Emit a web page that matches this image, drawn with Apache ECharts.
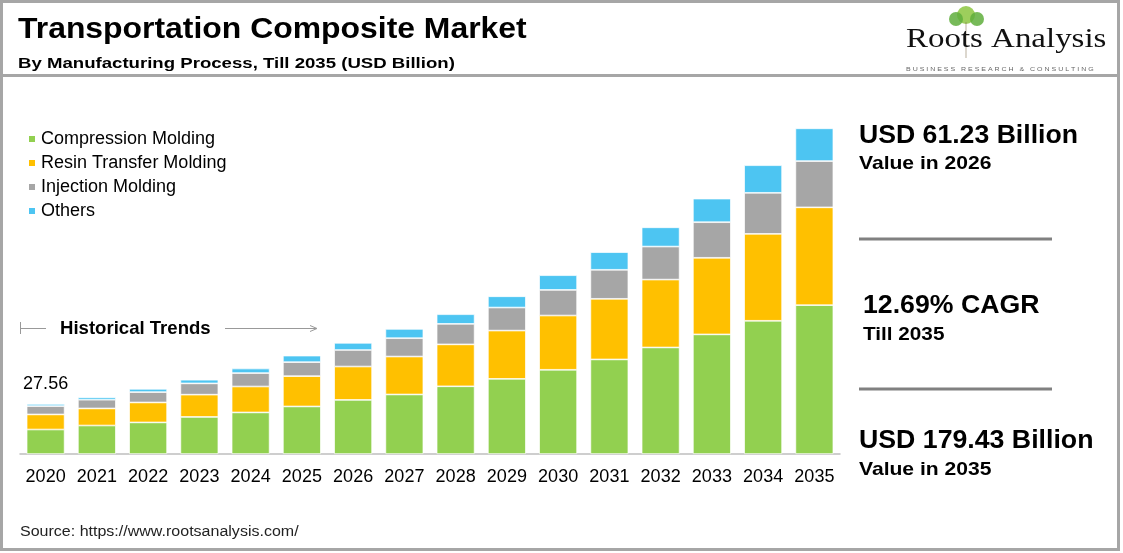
<!DOCTYPE html>
<html>
<head>
<meta charset="utf-8">
<script src="https://cdn.jsdelivr.net/npm/echarts@6/dist/echarts.min.js"></script>
<style>
html,body{margin:0;padding:0;background:#fff;}
#chart{width:1123px;height:553px;}
</style>
</head>
<body>
<div id="chart"></div>
<script>
var years = ['2020','2021','2022','2023','2024','2025','2026','2027','2028','2029','2030','2031','2032','2033','2034','2035'];
var compression = [13.5,15.7,17.4,20.4,22.9,26.2,29.8,32.8,37.3,41.4,46.4,52.1,58.7,65.9,73.4,82.0];
var resin = [8.3,9.4,11.0,12.3,14.3,16.7,18.4,20.9,23.1,26.6,29.9,33.4,37.4,42.2,47.9,53.9];
var injection = [4.6,4.8,5.7,6.2,7.4,7.7,9.1,10.1,11.3,12.7,14.1,16.0,18.2,19.6,22.6,25.5];
var others = [1.16,1.3,1.8,2.0,2.5,3.6,3.93,5.1,5.3,6.2,8.1,9.7,10.6,13.0,15.2,18.03];
var seriesNames = ['Compression Molding','Resin Transfer Molding','Injection Molding','Others'];
var colors = ['#92D050','#FFC000','#A6A6A6','#4DC5F2'];
var firstLabel = '27.56';

var font = 'Arial, "Liberation Sans", sans-serif';
var chart = echarts.init(document.getElementById('chart'));

var othersData = others.map(function(v,i){
  if(i===0){
    return {value:v,label:{show:true,position:'top',distance:11,formatter:firstLabel,fontSize:18,color:'#000',fontFamily:font}};
  }
  return v;
});

function mk(name,data,color){
  return {name:name,type:'bar',stack:'total',data:data,barCategoryGap:'26%',
    itemStyle:{color:color,borderColor:'#fff',borderWidth:0.7},
    emphasis:{disabled:true},animation:false};
}

function txt(x,y,s,f,sx,fill){
  return {type:'text',x:x,y:y,scaleX:sx||1,style:{text:s,font:f,fill:fill||'#000',textAlign:'left',textVerticalAlign:'middle'}};
}

var option = {
  backgroundColor:'#fff',
  animation:false,
  textStyle:{fontFamily:font},
  grid:{left:20,width:820,top:91,height:363},
  legend:{
    orient:'vertical',left:22,top:125,itemWidth:8,itemHeight:8,itemGap:6,
    icon:'rect',
    textStyle:{fontSize:18,lineHeight:18,color:'#000',fontFamily:font},
    data:seriesNames
  },
  xAxis:{type:'category',data:years,
    axisLine:{lineStyle:{color:'#BFBFBF',width:1.5}},
    axisTick:{show:false},
    axisLabel:{fontSize:18,color:'#000',margin:14,fontFamily:font,interval:0}
  },
  yAxis:{type:'value',min:0,max:200,show:false,splitLine:{show:false}},
  series:[
    mk(seriesNames[0],compression,colors[0]),
    mk(seriesNames[1],resin,colors[1]),
    mk(seriesNames[2],injection,colors[2]),
    mk(seriesNames[3],othersData,colors[3])
  ],
  graphic:[
    {type:'rect',shape:{x:1.5,y:1.5,width:1117,height:548},style:{fill:'none',stroke:'#A6A6A6',lineWidth:3},z:100},
    {type:'line',shape:{x1:1,y1:75.5,x2:1119,y2:75.5},style:{stroke:'#A6A6A6',lineWidth:3},z:100},
    txt(18,30,'Transportation Composite Market','bold 29px '+font,1.10),
    txt(18,64,'By Manufacturing Process, Till 2035 (USD Billion)','bold 15.5px '+font,1.2),
    // logo
    {type:'circle',shape:{cx:966,cy:15,r:9},style:{fill:'#8CC63F',opacity:0.85}},
    {type:'circle',shape:{cx:956,cy:19,r:7},style:{fill:'#5FAE3C',opacity:0.85}},
    {type:'circle',shape:{cx:977,cy:19,r:7},style:{fill:'#5FAE3C',opacity:0.85}},
    {type:'line',shape:{x1:966,y1:22,x2:966,y2:58},style:{stroke:'#8a7a5a',lineWidth:1.5,opacity:0.4}},
    txt(906,40,'Roots Analysis','27px "Liberation Serif", "Times New Roman", serif',1.22,'#111'),
    txt(906,69,'B U S I N E S S   R E S E A R C H   &   C O N S U L T I N G','6px '+font,1.17,'#666'),
    // historical trends
    {type:'line',shape:{x1:20.5,y1:322,x2:20.5,y2:334},style:{stroke:'#999',lineWidth:1}},
    {type:'line',shape:{x1:20,y1:328.5,x2:46,y2:328.5},style:{stroke:'#999',lineWidth:1}},
    txt(60,329,'Historical Trends','bold 17.7px '+font,1.05),
    {type:'line',shape:{x1:225,y1:328.5,x2:316,y2:328.5},style:{stroke:'#999',lineWidth:1}},
    {type:'polyline',shape:{points:[[310,325.5],[317,328.5],[310,331.5]]},style:{stroke:'#999',lineWidth:1,fill:'none'}},
    // right panel
    txt(859,136,'USD 61.23 Billion','bold 25px '+font,1.065),
    txt(859,164,'Value in 2026','bold 18.5px '+font,1.14),
    {type:'line',shape:{x1:859,y1:239,x2:1052,y2:239},style:{stroke:'#808080',lineWidth:3}},
    txt(863,306,'12.69% CAGR','bold 25px '+font,1.067),
    txt(863,335,'Till 2035','bold 18.5px '+font,1.12),
    {type:'line',shape:{x1:859,y1:389,x2:1052,y2:389},style:{stroke:'#808080',lineWidth:3}},
    txt(859,441,'USD 179.43 Billion','bold 25px '+font,1.068),
    txt(859,470,'Value in 2035','bold 18.5px '+font,1.14),
    txt(20,532,'Source: https://www.rootsanalysis.com/','14px '+font,1.144,'#222')
  ]
};
chart.setOption(option);
</script>
</body>
</html>
